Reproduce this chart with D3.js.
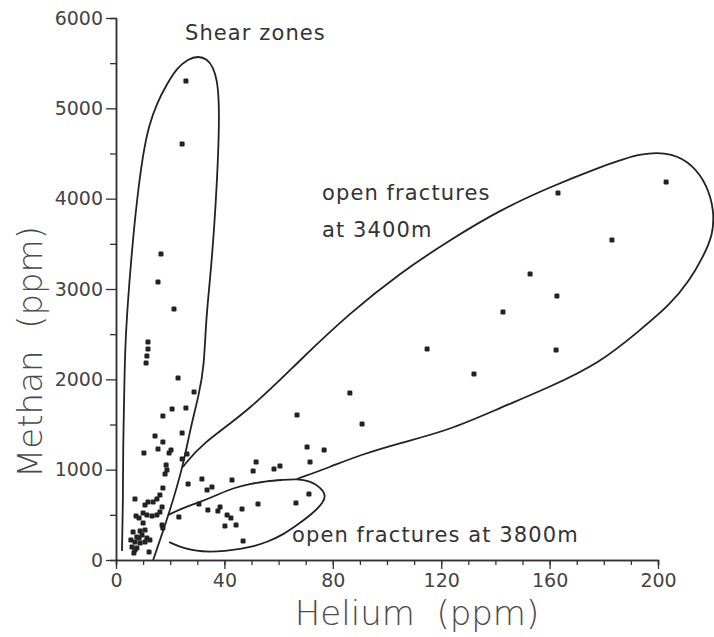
<!DOCTYPE html>
<html>
<head>
<meta charset="utf-8">
<script src="https://cdn.jsdelivr.net/npm/d3@7"></script>
<style>
  body { margin: 0; background: #fff; }
  text { font-family: "DejaVu Sans", sans-serif; }
</style>
</head>
<body>
<div id="chart"></div>
<script>
// tick labels
var xTicks = [0, 40, 80, 120, 160, 200];
var yTicks = [0, 1000, 2000, 3000, 4000, 5000, 6000];

// samples as [helium ppm, methan ppm]
var shearPoints = [
  [25.8, 5303], [24.4, 4605], [16.6, 3387], [15.5, 3077], [21.4, 2779],
  [11.8, 2413], [11.8, 2336], [11.4, 2258], [11.1, 2181], [22.9, 2015],
  [28.8, 1860], [20.7, 1672], [25.8, 1683], [17.3, 1594], [24.4, 1406],
  [14.4, 1373], [17.3, 1306], [15.5, 1229], [20.3, 1218], [19.6, 1185],
  [10.3, 1185], [26.2, 1173], [24.4, 1118], [18.5, 1052], [18.8, 996],
  [18.1, 952], [26.6, 841], [17.3, 797], [7.0, 675], [16.2, 720],
  [15.1, 675], [13.7, 642], [10.7, 609], [11.8, 642], [17.0, 587],
  [16.2, 531], [15.1, 498], [7.4, 487], [8.5, 465], [10.0, 520],
  [11.4, 498], [13.3, 487], [10.0, 410], [17.0, 387], [17.3, 354],
  [23.2, 476], [6.3, 310], [7.7, 255], [9.6, 277], [11.4, 244],
  [12.5, 221], [7.0, 199], [8.9, 188], [10.7, 199], [5.9, 144],
  [7.7, 133], [6.6, 77], [7.0, 111], [12.2, 89], [8.9, 321],
  [10.7, 332], [5.5, 221], [8.5, 244]
];
var midPoints = [
  [31.7, 897], [42.8, 886], [35.4, 808], [33.6, 775], [30.6, 620],
  [33.9, 553], [37.6, 542], [38.4, 587], [41.0, 498], [42.4, 465],
  [40.2, 376], [44.3, 387], [46.9, 210], [46.5, 565], [52.4, 620],
  [66.4, 631], [71.2, 731], [51.7, 1085], [50.6, 985], [58.3, 1007],
  [60.5, 1040], [71.6, 1085], [70.5, 1251], [76.8, 1218]
];
var fracturePoints = [
  [66.8, 1605], [86.3, 1849], [90.8, 1506], [114.8, 2336], [132.1, 2059],
  [142.8, 2745], [152.8, 3166], [162.4, 2325], [162.7, 2922], [163.1, 4063],
  [183.0, 3542], [203.0, 4185]
];

// hand-drawn envelopes (open outlines), same units
var shearEnvelope = [
  [2.2, 100], [2.6, 664], [2.6, 1218], [3.0, 1771], [3.3, 2325], [4.4, 2878],
  [5.9, 3432], [7.7, 3985], [10.0, 4505], [12.2, 4815], [15.1, 5059],
  [18.8, 5269], [22.5, 5446], [26.6, 5546], [30.3, 5579], [33.6, 5546],
  [35.8, 5458], [37.3, 5314], [38.0, 5092], [38.0, 4727], [37.3, 4207],
  [36.2, 3653], [34.7, 3100], [33.2, 2657], [32.5, 2137], [30.6, 1827],
  [27.3, 1439], [24.7, 1030], [19.2, 476], [13.7, 0]
];
var envelope3400 = [
  [24.7, 1030], [31.0, 1273], [49.4, 1661], [67.9, 2214], [86.3, 2734],
  [104.8, 3177], [123.2, 3542], [141.7, 3875], [160.1, 4129], [178.6, 4351],
  [194.5, 4517], [205.5, 4505], [212.9, 4373], [218.1, 4151], [220.7, 3875],
  [220.3, 3598], [216.6, 3354], [211.8, 3100], [204.4, 2823], [193.4, 2546],
  [178.6, 2181], [160.1, 1915], [141.7, 1683], [123.2, 1439], [104.8, 1295],
  [90.0, 1162], [79.0, 1030], [66.8, 897]
];
var envelope3800 = [
  [19.2, 498], [24.7, 576], [31.0, 642], [37.3, 720], [43.2, 797],
  [49.4, 841], [55.7, 875], [61.6, 886], [66.8, 897], [71.6, 875],
  [75.3, 808], [77.5, 720], [76.4, 631], [72.7, 520], [67.9, 410],
  [61.6, 277], [55.7, 199], [51.3, 155], [45.8, 122], [40.2, 100],
  [34.7, 89], [29.2, 100], [23.6, 144], [19.6, 199]
];

var width = 714, height = 637;

var svg = d3.select("#chart")
  .append("svg")
    .attr("width", width)
    .attr("height", height);

svg.append("rect").attr("width", width).attr("height", height).attr("fill", "#fff");

var x = d3.scaleLinear().domain([0, 200]).range([116, 658]);
var y = d3.scaleLinear().domain([0, 6000]).range([560, 18]);

// minor ticks first, then the labelled ones
svg.append("g")
    .attr("transform", "translate(0,560)")
    .call(d3.axisBottom(x).tickValues(d3.range(0, 201, 10)).tickSize(5).tickFormat(""));
svg.append("g")
    .attr("transform", "translate(116,0)")
    .call(d3.axisLeft(y).tickValues(d3.range(500, 6000, 1000)).tickSize(6).tickFormat(""));

svg.append("g")
    .attr("transform", "translate(0,560)")
    .call(d3.axisBottom(x).tickValues(xTicks).tickSize(9).tickSizeOuter(0).tickPadding(5)
      .tickFormat(d3.format("d")));
svg.append("g")
    .attr("transform", "translate(116,0)")
    .call(d3.axisLeft(y).tickValues(yTicks).tickSize(10).tickSizeOuter(0).tickPadding(3)
      .tickFormat(d3.format("d")));

svg.selectAll(".domain").attr("stroke", "#333").attr("stroke-width", 1.5);
svg.selectAll(".tick line").attr("stroke", "#333").attr("stroke-width", 1.3);
svg.selectAll(".tick text")
    .style("font-family", "DejaVu Sans, sans-serif")
    .style("font-size", "19px")
    .attr("fill", "#444");

// envelopes
var line = d3.line()
    .x(function(d) { return x(d[0]); })
    .y(function(d) { return y(d[1]); })
    .curve(d3.curveBasis);

[shearEnvelope, envelope3400, envelope3800].forEach(function(env) {
  svg.append("path")
    .datum(env)
    .attr("d", line)
    .attr("fill", "none")
    .attr("stroke", "#222")
    .attr("stroke-width", 1.8);
});

// sample points
var allPoints = shearPoints.concat(midPoints, fracturePoints);
svg.append("g")
  .selectAll("rect")
  .data(allPoints)
  .enter().append("rect")
    .attr("x", function(d) { return x(d[0]) - 2.5; })
    .attr("y", function(d) { return y(d[1]) - 2.5; })
    .attr("width", 5)
    .attr("height", 5)
    .attr("rx", 1.2)
    .attr("fill", "#222");

// labels
var labelStyle = function(t) {
  t.style("font-size", "21px").style("letter-spacing", "1.1px").attr("fill", "#333");
};
svg.append("text").attr("x", 185).attr("y", 40).text("Shear zones").call(labelStyle);
svg.append("text").attr("x", 322).attr("y", 200).text("open fractures").call(labelStyle);
svg.append("text").attr("x", 322).attr("y", 237).text("at 3400m").call(labelStyle);
svg.append("text").attr("x", 292).attr("y", 542).text("open fractures at 3800m").call(labelStyle);

// axis titles
svg.append("text")
    .attr("x", 417).attr("y", 625)
    .attr("text-anchor", "middle")
    .style("font-size", "34px").style("font-weight", 300)
    .attr("fill", "#4a4a4a")
    .text("Helium\u00a0 (ppm)");
svg.append("text")
    .attr("transform", "translate(42,352) rotate(-90)")
    .attr("text-anchor", "middle")
    .style("font-size", "34px").style("font-weight", 300)
    .attr("fill", "#4a4a4a")
    .text("Methan\u00a0 (ppm)");
</script>
</body>
</html>
